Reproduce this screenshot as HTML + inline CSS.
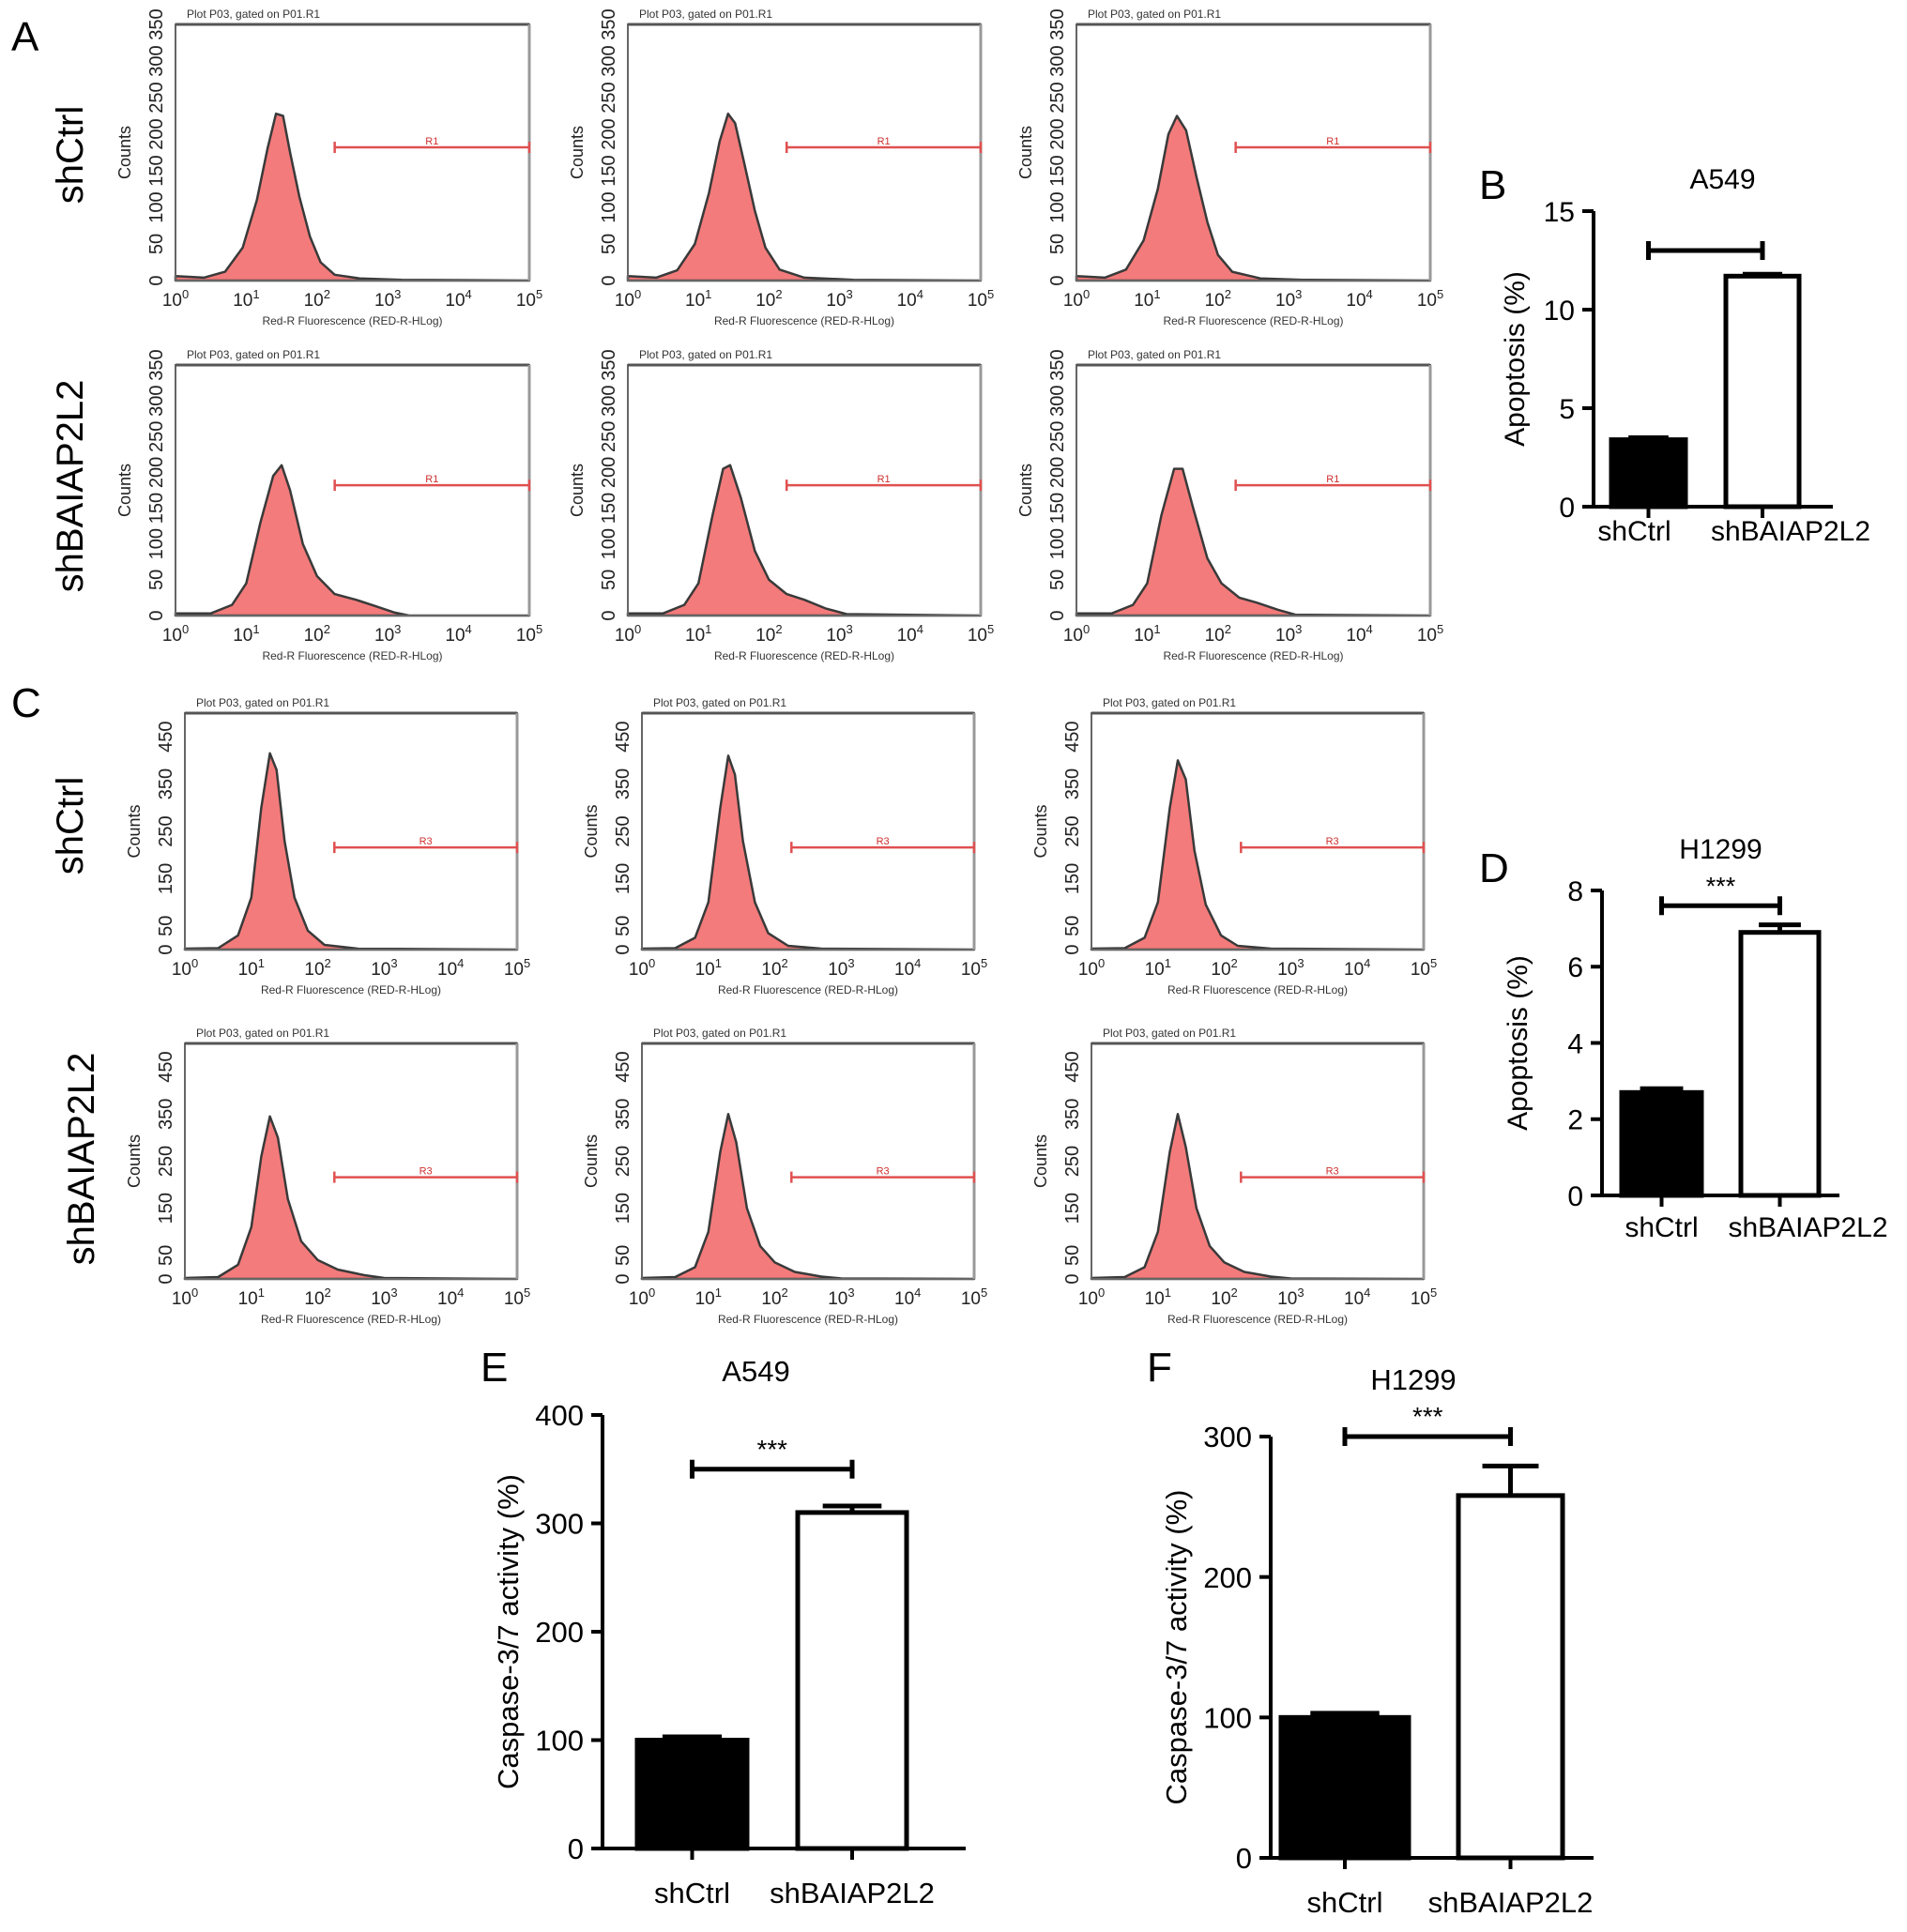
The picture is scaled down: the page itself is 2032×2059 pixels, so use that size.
<!DOCTYPE html>
<html><head><meta charset="utf-8"><style>
html,body{margin:0;padding:0;background:#fff;}
svg{display:block;font-family:"Liberation Sans",sans-serif;}
</style></head><body>
<svg id="fig" width="2032" height="2059" viewBox="0 0 2032 2059" xmlns="http://www.w3.org/2000/svg"></svg>
<script>
// ---------- DATA ----------
const histA1 = [[0,6],[0.4,4],[0.7,12],[0.95,45],[1.15,110],[1.3,180],[1.42,228],[1.52,225],[1.62,175],[1.75,115],[1.9,60],[2.05,25],[2.25,8],[2.6,3],[3.2,1],[5,0]];
const histA2 = [[0,6],[0.4,4],[0.7,14],[0.95,50],[1.15,120],[1.3,190],[1.42,228],[1.52,215],[1.65,160],[1.8,95],[1.95,45],[2.15,15],[2.5,4],[3.2,1],[5,0]];
const histA3 = [[0,6],[0.4,4],[0.7,15],[0.95,55],[1.15,125],[1.3,200],[1.42,225],[1.55,205],[1.7,140],[1.85,80],[2.0,35],[2.2,12],[2.6,3],[3.2,1],[5,0]];
const histA4 = [[0,3],[0.5,3],[0.8,15],[1.0,45],[1.2,130],[1.38,195],[1.5,210],[1.62,175],[1.8,100],[2.0,55],[2.25,30],[2.55,22],[2.8,14],[3.1,4],[3.3,0],[5,0]];
const histA5 = [[0,3],[0.5,3],[0.8,15],[1.0,45],[1.2,140],[1.35,205],[1.45,210],[1.6,165],[1.8,90],[2.0,50],[2.25,30],[2.5,22],[2.8,10],[3.1,2],[5,0]];
const histA6 = [[0,3],[0.5,3],[0.8,15],[1.0,45],[1.2,140],[1.38,205],[1.5,205],[1.65,150],[1.85,80],[2.05,45],[2.3,25],[2.55,18],[2.85,8],[3.1,1],[5,0]];
const histC1 = [[0,2],[0.5,3],[0.8,30],[1.0,110],[1.15,300],[1.28,415],[1.38,380],[1.5,230],[1.65,110],[1.85,40],[2.1,10],[2.6,2],[5,0]];
const histC2 = [[0,2],[0.5,3],[0.8,25],[1.0,100],[1.18,300],[1.3,410],[1.4,370],[1.52,230],[1.7,100],[1.9,35],[2.2,8],[2.7,2],[5,0]];
const histC3 = [[0,2],[0.5,3],[0.8,25],[1.0,100],[1.18,300],[1.3,400],[1.42,360],[1.55,210],[1.72,95],[1.95,30],[2.2,8],[2.7,2],[5,0]];
const histC4 = [[0,2],[0.5,4],[0.8,30],[1.0,110],[1.15,260],[1.28,345],[1.4,300],[1.55,170],[1.75,80],[2.0,40],[2.3,20],[2.7,8],[3.0,2],[5,0]];
const histC5 = [[0,2],[0.5,4],[0.8,25],[1.0,100],[1.18,270],[1.3,350],[1.42,290],[1.58,150],[1.78,70],[2.0,35],[2.3,15],[2.7,5],[3.0,1],[5,0]];
const histC6 = [[0,2],[0.5,4],[0.8,25],[1.0,100],[1.18,270],[1.3,350],[1.42,280],[1.58,150],[1.78,70],[2.0,35],[2.3,15],[2.7,5],[3.0,1],[5,0]];

const barCats = ["shCtrl","shBAIAP2L2"];
const bVals = [3.4, 11.7];
const bErrs = [0.1, 0.1];
const bTicks = [0,5,10,15];
const dVals = [2.7, 6.9];
const dErrs = [0.1, 0.2];
const dTicks = [0,2,4,6,8];
const eVals = [100, 310];
const eErrs = [3, 6];
const eTicks = [0,100,200,300,400];
const fVals = [100, 258];
const fErrs = [3, 21];
const fTicks = [0,100,200,300];

// ---------- HELPERS ----------
const svg = document.getElementById('fig');
const NS = 'http://www.w3.org/2000/svg';
function mk(tag, attrs, parent){
  const el = document.createElementNS(NS, tag);
  for (const k in attrs) el.setAttribute(k, attrs[k]);
  (parent||svg).appendChild(el);
  return el;
}
function txt(str, x, y, size, opts, parent){
  opts = opts||{};
  const el = mk('text', {x:x, y:y, 'font-size':size, fill:opts.fill||'#000', 'text-anchor':opts.anchor||'middle'}, parent);
  if (opts.rot) el.setAttribute('transform', 'rotate('+opts.rot+' '+x+' '+y+')');
  el.textContent = str;
  return el;
}

// ---------- PANEL LETTERS & ROW LABELS ----------
[["A",12,54],["C",12,764],["E",512,1472],["F",1222,1472],["B",1576,212],["D",1576,940]].forEach(l=>{
  const t = txt(l[0], l[1], l[2], 44, {anchor:'start'});
  
  
});
[["shCtrl",88,165],["shBAIAP2L2",88,518],["shCtrl",88,880],["shBAIAP2L2",100,1235]].forEach((r,i)=>{
  const t = txt(r[0], r[1], r[2], 40, {rot:-90});
  
  
});

// ---------- FLOW HISTOGRAMS ----------
function histo(data, x0, y0, x1, y1, ymax, yticks, gateY, gateLabel, xlab, name){
  const g = mk('g', {});
  
  
  const sx = v => x0 + (x1-x0)*v/5;
  const sy = v => y1 - (y1-y0)*v/ymax;
  const h = txt('Plot P03, gated on P01.R1', x0+12, y0-7, 12, {anchor:'start', fill:'#333'}, g);
  
  
  let d = 'M'+sx(data[0][0])+','+sy(0);
  data.forEach(p=>{ d += ' L'+sx(p[0]).toFixed(1)+','+sy(p[1]).toFixed(1); });
  d += ' L'+sx(5)+','+sy(0)+' Z';
  const p = mk('path', {d:d, fill:'#f47b7b', stroke:'#3a3a3a', 'stroke-width':2.5, 'stroke-linejoin':'round'}, g);
  
  
  const f = mk('rect', {x:x0, y:y0, width:x1-x0, height:y1-y0, fill:'none', stroke:'#666', 'stroke-width':2}, g);
  
  
  mk('line', {x1:x0, y1:y0, x2:x1, y2:y0, stroke:'#555', 'stroke-width':3}, g);
  mk('line', {x1:x1, y1:y0, x2:x1, y2:y1, stroke:'#999', 'stroke-width':3}, g);
  const gx0 = sx(2.25), gx1 = sx(5), gy = sy(gateY);
  const gl = mk('line', {x1:gx0, y1:gy, x2:gx1, y2:gy, stroke:'#e05050', 'stroke-width':2.5}, g);
  
  
  mk('line', {x1:gx0, y1:gy-6, x2:gx0, y2:gy+6, stroke:'#e05050', 'stroke-width':2.5}, g);
  mk('line', {x1:gx1, y1:gy-6, x2:gx1, y2:gy+6, stroke:'#e05050', 'stroke-width':2.5}, g);
  const gt = txt(gateLabel, (gx0+gx1)/2, gy-3, 11, {fill:'#d03030'}, g);
  
  
  yticks.forEach(v=>{
    const t = txt(String(v), x0-14, sy(v), 20, {rot:-90, fill:'#222'}, g);
    
    
  });
  const yl = txt('Counts', x0-48, (y0+y1)/2, 18, {rot:-90, fill:'#222'}, g);
  
  
  for (let k=0;k<=5;k++){
    const t = mk('text', {x:sx(k), y:y1+27, 'font-size':19, 'text-anchor':'middle', fill:'#222'}, g);
    
    
    t.innerHTML = '10<tspan dy="-8" font-size="13">'+k+'</tspan>';
  }
  const xl = txt(xlab, (x0+x1)/2, y1+47, 12, {fill:'#333'}, g);
  
  
}
const aTicks=[0,50,100,150,200,250,300,350], cTicks=[0,50,150,250,350,450];
const aCols=[[187,564],[669,1045],[1147,1524]], cCols=[[197,551],[684,1038],[1163,1517]];
const aHists=[histA1,histA2,histA3,histA4,histA5,histA6], cHists=[histC1,histC2,histC3,histC4,histC5,histC6];
for (let i=0;i<6;i++){
  const c=aCols[i%3], r = i<3?[26,299]:[389,656];
  histo(aHists[i], c[0], r[0], c[1], r[1], 350, aTicks, 182, 'R1', 'Red-R Fluorescence (RED-R-HLog)', 'flow-histogram-a-'+(i+1));
}
for (let i=0;i<6;i++){
  const c=cCols[i%3], r = i<3?[760,1012]:[1112,1363];
  histo(cHists[i], c[0], r[0], c[1], r[1], 500, cTicks, 216, 'R3', 'Red-R Fluorescence (RED-R-HLog)', 'flow-histogram-c-'+(i+1));
}

// ---------- BAR CHARTS ----------
function barChart(o){
  const g = mk('g', {});
  
  
  const sy = v => o.y0 - (o.y0-o.yTop)*v/o.ymax;
  o.vals.forEach((v,i)=>{
    const bx = o.bars[i][0], bw = o.bars[i][1]-o.bars[i][0];
    const cx = bx + bw/2;
    const e = mk('line', {x1:cx, y1:sy(v), x2:cx, y2:sy(v+o.errs[i]), stroke:'#000', 'stroke-width':5}, g);
    
    
    const cap = mk('line', {x1:cx-bw*0.27, y1:sy(v+o.errs[i]), x2:cx+bw*0.27, y2:sy(v+o.errs[i]), stroke:'#000', 'stroke-width':5}, g);
    
    
    const r = mk('rect', {x:bx, y:sy(v), width:bw, height:sy(0)-sy(v), fill: i==0?'#000':'#fff', stroke:'#000', 'stroke-width':5}, g);
    
    
    const tk = mk('line', {x1:cx, y1:o.y0, x2:cx, y2:o.y0+12, stroke:'#000', 'stroke-width':4}, g);
    
    
    const lb = txt(o.cats[i], cx+o.catDx[i], o.y0+o.catDy, o.fs, {}, g);
    
    
  });
  const ya = mk('line', {x1:o.ax, y1:o.yTop, x2:o.ax, y2:o.y0, stroke:'#000', 'stroke-width':4}, g);
  
  
  const xa = mk('line', {x1:o.ax, y1:o.y0, x2:o.xEnd, y2:o.y0, stroke:'#000', 'stroke-width':4}, g);
  
  
  o.ticks.forEach(v=>{
    const t = mk('line', {x1:o.ax-12, y1:sy(v), x2:o.ax, y2:sy(v), stroke:'#000', 'stroke-width':4}, g);
    
    
    const l = txt(String(v), o.ax-20, sy(v)+o.fs*0.36, o.fs, {anchor:'end'}, g);
    
    
  });
  const yt = txt(o.ytitle, o.ax-o.ytDx, (o.yTop+o.y0)/2, o.fs, {rot:-90}, g);
  
  
  const tt = txt(o.title, (o.ax+o.xEnd)/2+o.titleDx, o.yTop-o.titleDy, o.fs, {}, g);
  
  
  const by = sy(o.sig), bx0 = (o.bars[0][0]+o.bars[0][1])/2, bx1 = (o.bars[1][0]+o.bars[1][1])/2;
  const br = mk('path', {d:'M'+bx0+','+(by-10)+' V'+(by+10)+' M'+bx0+','+by+' H'+bx1+' M'+bx1+','+(by-10)+' V'+(by+10), stroke:'#000', 'stroke-width':5, fill:'none'}, g);
  
  
  if (o.stars){
    const st = txt('***', (bx0+bx1)/2, by-12, o.fs*0.9, {}, g);
    
    
  }
}
barChart({name:'chart-b-a549-apoptosis', cats:barCats, vals:bVals, errs:bErrs, ticks:bTicks, ymax:15, ax:1698, yTop:225, y0:540, xEnd:1953, bars:[[1717,1796],[1839,1917]], fs:30, catDy:36, catDx:[-15,30], ytitle:'Apoptosis (%)', ytDx:74, title:'A549', titleDx:10, titleDy:24, sig:13, stars:false});
barChart({name:'chart-d-h1299-apoptosis', cats:barCats, vals:dVals, errs:dErrs, ticks:dTicks, ymax:8, ax:1707, yTop:949, y0:1274, xEnd:1960, bars:[[1728,1813],[1855,1938]], fs:30, catDy:44, catDx:[0,30], ytitle:'Apoptosis (%)', ytDx:80, title:'H1299', titleDx:0, titleDy:34, sig:7.6, stars:true});
barChart({name:'chart-e-a549-caspase', cats:barCats, vals:eVals, errs:eErrs, ticks:eTicks, ymax:400, ax:642, yTop:1508, y0:1970, xEnd:1029, bars:[[679,796],[850,966]], fs:31, catDy:58, catDx:[0,0], ytitle:'Caspase-3/7 activity (%)', ytDx:90, title:'A549', titleDx:-30, titleDy:36, sig:350, stars:true});
barChart({name:'chart-f-h1299-caspase', cats:barCats, vals:fVals, errs:fErrs, ticks:fTicks, ymax:300, ax:1354, yTop:1531, y0:1980, xEnd:1698, bars:[[1365,1501],[1554,1665]], fs:31, catDy:58, catDx:[0,0], ytitle:'Caspase-3/7 activity (%)', ytDx:90, title:'H1299', titleDx:-20, titleDy:50, sig:300, stars:true});
</script>
</body></html>
